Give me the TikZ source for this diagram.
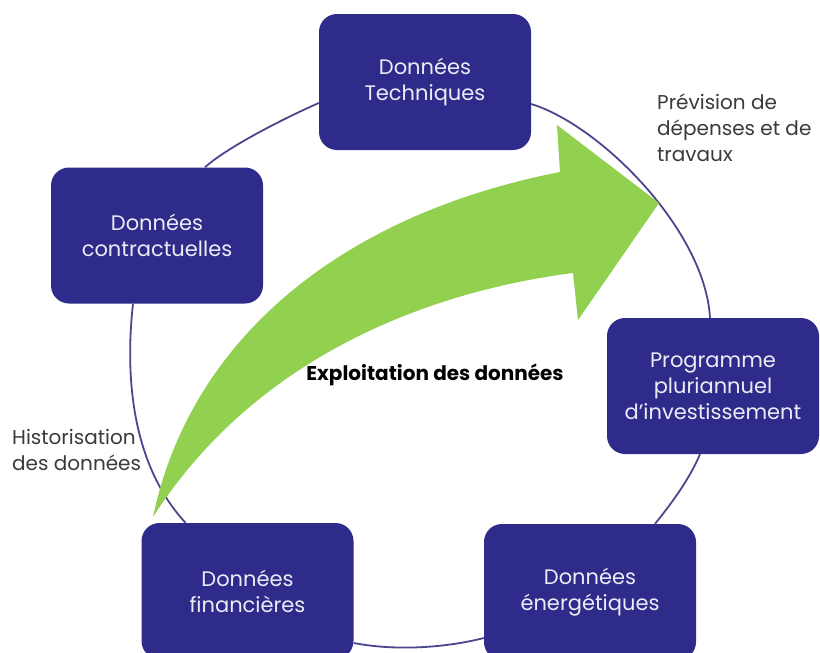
\documentclass[tikz,border=0pt]{standalone}
\usepackage{fontspec}
\setmainfont{Poppins}
\definecolor{boxblue}{HTML}{2E2B8B}
\definecolor{boxtext}{HTML}{ECECF6}
\definecolor{ringcol}{HTML}{4A4790}
\definecolor{arrowgreen}{HTML}{92D050}
\definecolor{labelgray}{HTML}{3A3A3A}
\begin{document}
\begin{tikzpicture}[x=1pt,y=-1pt,
  databox/.style={draw=none, fill=boxblue, rounded corners=18pt,
    minimum width=212pt, minimum height=136pt, text=boxtext, align=center,
    font=\fontsize{21}{26}\selectfont, inner sep=0pt},
  sidelabel/.style={text=labelgray, align=left, inner sep=0pt, anchor=north west,
    font=\fontsize{20}{26}\selectfont},
  ringline/.style={draw=ringcol, line width=1.8pt}]
\useasboundingbox (0,0) rectangle (820,653);
\fill[white] (0,0) rectangle (820,653);
% boxes
\node[databox] (tech) at (425,82) {Données\\Techniques};
\node[databox] (contr) at (157,235.5) {Données\\contractuelles};
\node[databox] (prog) at (713,386) {Programme\\pluriannuel\\d’investissement};
\node[databox] (ener) at (590,592) {Données\\énergétiques};
\node[databox] (fin) at (247.5,591) {Données\\financières};
% ring segments between the boxes
\draw[ringline] ([xshift=48pt]contr.north) .. controls (225,149) and (278,121) .. ([yshift=-21pt]tech.west);
\draw[ringline] ([yshift=-22pt]tech.east) .. controls (600,125) and (705,230) .. ([xshift=-3pt]prog.north);
\draw[ringline] ([xshift=-13pt]prog.south) .. controls (690,478) and (672,503) .. ([xshift=65pt]ener.north);
\draw[ringline] ([yshift=-46pt]ener.west) .. controls (445,648) and (395,651) .. ([yshift=-52pt]fin.east);
\draw[ringline] ([xshift=-62pt]fin.north) .. controls (135,468) and (124,385) .. ([xshift=-24pt]contr.south);
% big arrow
\fill[arrowgreen] (153,517) .. controls (190,340) and (340,215) .. (560,172)
  -- (557,125) -- (659,203) -- (578,320) -- (573,273)
  .. controls (440,290) and (260,350) .. (153,517) -- cycle;
% labels
\node[sidelabel] (prev) at (657,94) {Prévision de\\dépenses et de\\travaux};
\node[sidelabel] (hist) at (12,429) {Historisation\\des données};
\node[font=\bfseries\fontsize{20}{24}\selectfont, text=black, inner sep=0pt] (expl) at (435,375) {Exploitation des données};
\end{tikzpicture}
\end{document}
